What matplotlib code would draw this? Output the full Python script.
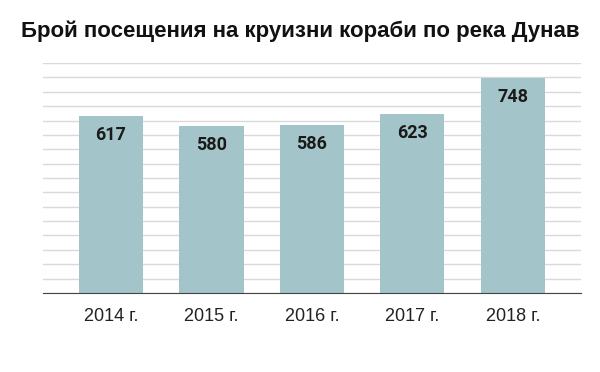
import matplotlib.pyplot as plt
import numpy as np

# data
years = ['2014 г.', '2015 г.', '2016 г.', '2017 г.', '2018 г.']
visits = [617, 580, 586, 623, 748]

plt.rcParams['font.family'] = ['Liberation Sans', 'DejaVu Sans']

fig = plt.figure(figsize=(6, 3.72), dpi=100)
ax = fig.add_axes([0.0717, 0.2124, 0.8963, 0.6182])

x = np.arange(len(years))
ax.bar(x, visits, width=0.64, color='#a3c4c9', zorder=3)

for xi, v in zip(x, visits):
    ax.text(xi, v - 66, str(v), ha='center', va='center', fontsize=13,
            fontweight='bold', color='#1a1a1a', zorder=4,
            family=['Roboto', 'DejaVu Sans'])

ax.set_ylim(0, 800)
ax.set_xlim(-0.677, 4.677)
ax.set_yticks(np.arange(0, 801, 50))
ax.yaxis.grid(True, color='#d9d9d9', linewidth=1, zorder=0)
ax.tick_params(axis='y', length=0, labelleft=False)
ax.tick_params(axis='x', length=0, pad=11, labelsize=13, colors='#222222')
ax.set_xticks(x)
ax.set_xticklabels(years)

for s in ['top', 'right', 'left']:
    ax.spines[s].set_visible(False)
ax.spines['bottom'].set_color('#444444')
ax.spines['bottom'].set_zorder(5)

fig.text(0.5, 0.915, 'Брой посещения на круизни кораби по река Дунав',
         ha='center', va='center', fontsize=16, fontweight='bold', color='#111111')

fig.savefig('out.png', dpi=100)
